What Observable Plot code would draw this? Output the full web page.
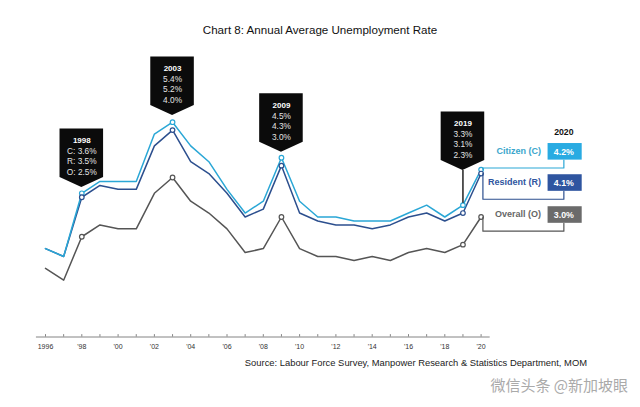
<!DOCTYPE html>
<html><head><meta charset="utf-8">
<script src="https://cdn.jsdelivr.net/npm/d3@7"></script>
<script src="https://cdn.jsdelivr.net/npm/@observablehq/plot@0.6"></script>
<style>
body{margin:0;background:#fff;width:640px;height:407px;overflow:hidden;font-family:"Liberation Sans",Arial,sans-serif;}
#title{height:50px;padding-top:20px;line-height:20px;box-sizing:border-box;text-align:center;font-size:11.6px;color:#111;}
#chart svg{display:block;overflow:visible}
#source{height:16px;line-height:16px;font-size:9.4px;text-align:right;padding-right:53px;color:#222}
#wm{height:28px;line-height:28px;font-size:15px;text-align:right;padding-right:12px;color:#aaa;font-family:"Noto Sans CJK SC",sans-serif}
</style></head>
<body>
<div id="title">Chart 8: Annual Average Unemployment Rate</div>
<div id="chart"></div>
<div id="source">Source: Labour Force Survey, Manpower Research &amp; Statistics Department, MOM</div>
<div id="wm">微信头条 @新加坡眼</div>
<script>
// ---- data ----
const years = [1996,1997,1998,1999,2000,2001,2002,2003,2004,2005,2006,2007,2008,2009,2010,2011,2012,2013,2014,2015,2016,2017,2018,2019,2020];
const citizen  = [2.2,2.0,3.6,3.9,3.9,3.9,5.1,5.4,4.8,4.4,3.7,3.1,3.4,4.5,3.4,3.0,3.0,2.9,2.9,2.9,3.1,3.3,3.0,3.3,4.2];
const resident = [2.2,2.0,3.5,3.8,3.7,3.7,4.8,5.2,4.4,4.1,3.6,3.0,3.2,4.3,3.1,2.9,2.8,2.8,2.7,2.8,3.0,3.1,2.9,3.1,4.1];
const overall  = [1.7,1.4,2.5,2.8,2.7,2.7,3.6,4.0,3.4,3.1,2.7,2.1,2.2,3.0,2.2,2.0,2.0,1.9,2.0,1.9,2.1,2.2,2.1,2.3,3.0];
const seriesNames = ["Citizen (C)","Resident (R)","Overall (O)"];
const seriesKeys = ["C","R","O"];
const markerYears = [1998,2003,2009,2019,2020];
const calloutYears = [1998,2003,2009,2019];
const tickLabelYears = [1996,1998,2000,2002,2004,2006,2008,2010,2012,2014,2016,2018,2020];
const lastYear = 2020;

// ---- styles / layout ----
const colors = {C:"#2aa7d6", R:"#2c4f8e", O:"#555555"};
const boxColors = {C:"#29abe2", R:"#2f55a0", O:"#6b6b6b"};
const labelColors = {C:"#3aa6cc", R:"#2f55a0", O:"#666666"};
const seriesVals = {C:citizen, R:resident, O:overall};
const idx = y => years.indexOf(y);
const FONT = "Liberation Sans, Arial, sans-serif";

const table = seriesKeys.flatMap(k => years.map((y,i)=>({k, year:y, v:seriesVals[k][i]})));
const markers = table.filter(d => markerYears.includes(d.year));

// callouts (layout offsets in data units)
const lift = [0.40, 0.42, 0.39, 1.13];
const boxH = 1.23, tipD = 0.25, halfW = 1.2;
const callouts = calloutYears.map((yr,i)=>{
  const b = citizen[idx(yr)] + lift[i];
  return {yr, bottom:b, top:b+boxH, tip:b-tipD};
});
const shapes = callouts.flatMap(c => [
  {k:c.yr, x:c.yr-halfW, y1:c.bottom, y2:c.top},
  {k:c.yr, x:c.yr, y1:c.tip, y2:c.top},
  {k:c.yr, x:c.yr+halfW, y1:c.bottom, y2:c.top}
]);
const fmt = v => v.toFixed(1) + "%";
const calloutText = callouts.flatMap((c,i) => {
  const j = idx(c.yr);
  const pre = i === 0 ? ["C: ","R: ","O: "] : ["","",""];
  return [
    {x:c.yr, y:c.top, t:String(c.yr), line:0},
    {x:c.yr, y:c.top, t:pre[0]+fmt(citizen[j]), line:1},
    {x:c.yr, y:c.top, t:pre[1]+fmt(resident[j]), line:2},
    {x:c.yr, y:c.top, t:pre[2]+fmt(overall[j]), line:3}
  ];
});
const lineDy = [11.8, 22.4, 32.8, 43.2];
const pointer = [{x:2019, y1:citizen[idx(2019)]+0.05, y2:callouts[3].tip}];

// right-hand legend rows
const rowCenter = {C:4.65, R:3.86, O:3.05};
const boxX1 = 2023.69, boxX2 = 2025.57, boxMid = 2024.56, labelX = 2023.3, elbowX = 2020.1;
const halfBox = 0.21, connDrop = 0.41;
const rows = seriesKeys.map((k,i)=>({k, name:seriesNames[i], c:rowCenter[k], v:seriesVals[k][idx(lastYear)]}));
const connectors = rows.flatMap(r => {
  const lvl = r.c - connDrop;
  return [
    {k:r.k, x:elbowX, y:r.v},
    {k:r.k, x:elbowX, y:lvl},
    {k:r.k, x:boxMid, y:lvl},
    {k:r.k, x:boxMid, y:r.c - halfBox}
  ];
});

const chart = Plot.plot({
  width: 640, height: 305,
  marginLeft: 45, marginRight: 159.4, marginTop: 48, marginBottom: 20,
  x: {domain:[1996, 2020], axis:null},
  y: {domain:[0, 6], axis:null},
  style: {fontFamily: FONT, background:"#fff", overflow:"visible"},
  marks: [
    // axis
    Plot.ruleY([0], {x1:1995.5, x2:2020.5, stroke:"#666", strokeWidth:0.8, dy:1.5}),
    Plot.ruleX(years, {x:d=>d, y1:0, y2:0.06, stroke:"#666", strokeWidth:0.8, dy:1.5}),
    Plot.text(tickLabelYears, {x:d=>d, y:0, text:d => d===1996 ? "1996" : "'" + String(d).slice(2), dy:11, fontSize:7, fill:"#333"}),
    // lines
    ...["O","R","C"].map(k => Plot.line(table.filter(d=>d.k===k), {x:"year", y:"v", stroke:colors[k], strokeWidth:1.5, curve:"linear"})),
    // markers
    Plot.dot(markers, {x:"year", y:"v", r:2.3, fill:"#fff", stroke:d=>colors[d.k], strokeWidth:1.2}),
    // callouts
    Plot.ruleX(pointer, {x:"x", y1:"y1", y2:"y2", stroke:"#000", strokeWidth:1.3}),
    Plot.areaY(shapes, {x:"x", y1:"y1", y2:"y2", z:"k", fill:"#0b0b0b", curve:"linear"}),
    ...[0,1,2,3].map(l => Plot.text(calloutText.filter(d=>d.line===l), {x:"x", y:"y", text:"t", dy:lineDy[l],
        fill: l===0 ? "#fff" : "#e4e4e4", fontSize: l===0 ? 8 : 8.3, fontWeight: l===0 ? "bold" : "normal"})),
    // connectors
    ...seriesKeys.map(k => Plot.line(connectors.filter(d=>d.k===k), {x:"x", y:"y", stroke:colors[k], strokeWidth:1.2, curve:"linear"})),
    // legend boxes
    Plot.rect(rows, {x1:boxX1, x2:boxX2, y1:d=>d.c-halfBox, y2:d=>d.c+halfBox, fill:d=>boxColors[d.k]}),
    Plot.text(rows, {x:boxMid, y:"c", text:d=>fmt(d.v), fill:"#fff", fontSize:8.8, fontWeight:"bold"}),
    Plot.text(rows, {x:labelX, y:"c", text:"name", textAnchor:"end", fill:d=>labelColors[d.k], fontSize:9, fontWeight:"bold", dy:-0.5}),
    Plot.text([String(lastYear)], {x:boxMid, y:5.15, text:d=>d, fontSize:8.7, fontWeight:"bold", fill:"#111"})
  ]
});
document.getElementById("chart").appendChild(chart);
</script>
</body></html>
